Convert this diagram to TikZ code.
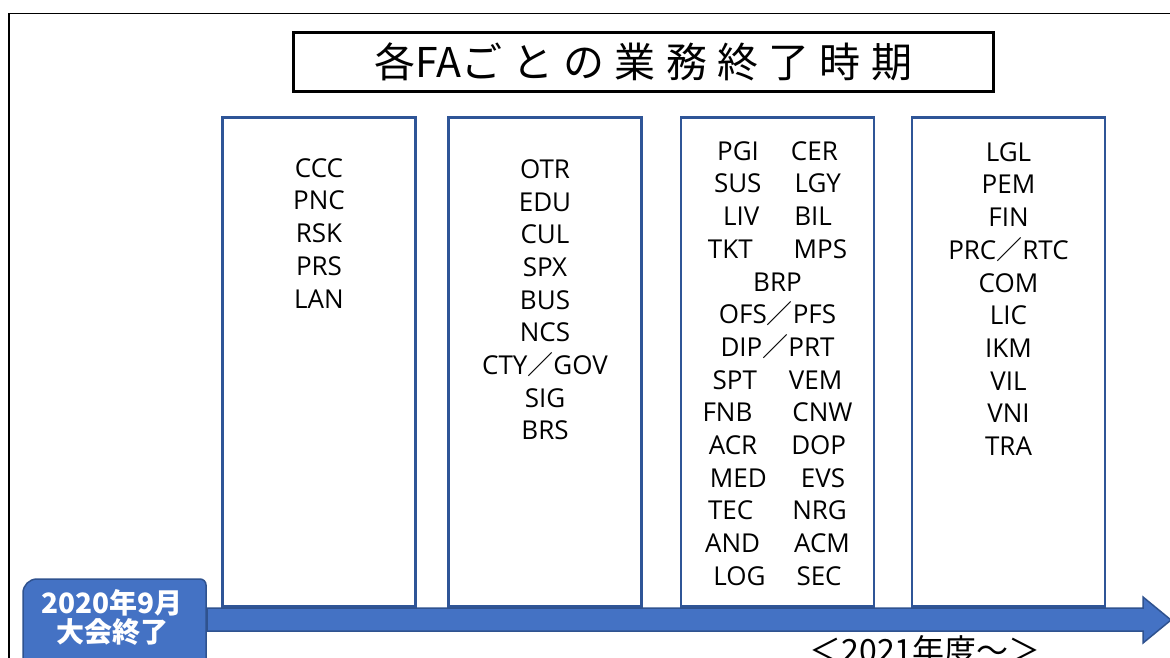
\documentclass[tikz,border=0pt]{standalone}
\usepackage{fontspec}
\setmainfont{Open Sans}
\newfontfamily\jpfont{Noto Sans CJK JP}
\newfontfamily\titlefont[LetterSpace=25]{Noto Sans CJK JP}
\usetikzlibrary{positioning}

\definecolor{fablue}{HTML}{2F5597}
\definecolor{arrowblue}{HTML}{4472C4}
\definecolor{arrowedge}{HTML}{2F528F}

\begin{document}
\begin{tikzpicture}[x=1pt, y=-1pt,
  fabox/.style={draw=fablue, line width=2.5pt, minimum width=193pt, minimum height=489pt, inner sep=0pt},
  falist/.style={font=\fontsize{26}{32.7}\selectfont, align=center, inner sep=0pt},
  titlebox/.style={draw=black, line width=3pt, minimum width=700pt, minimum height=59pt, inner sep=0pt},
  datebox/.style={fill=arrowblue, draw=arrowedge, line width=1.5pt}]
  \useasboundingbox (0,0) rectangle (1170,657);
  \clip (0,0) rectangle (1170,657);
  \fill[white] (0,0) rectangle (1170,657);

  % frame and title
  \draw[line width=1.5pt] (9,700) -- (9,13.5) -- (1200,13.5);
  \node[titlebox] (title) at (643.5,62) {};
  \node[font=\titlefont\fontsize{41}{41}\selectfont] (titletext) at (title.center) {各{\jpfont FA}ごとの業務終了時期};

  % columns
  \node[fabox] (box1) at (319,362) {};
  \node[fabox] (box2) at (545,362) {};
  \node[fabox] (box3) at (777.5,362) {};
  \node[fabox] (box4) at (1008.5,362) {};

  \node[falist, below=42pt of box1.north] (list1) {CCC\\PNC\\RSK\\PRS\\LAN};
  \node[falist, below=43pt of box2.north] (list2)
    {OTR\\EDU\\CUL\\SPX\\BUS\\NCS\\CTY{\jpfont ／}GOV\\SIG\\BRS};
  \node[falist, below=25pt of box3.north] (list3)
    {PGI\hspace{32pt}CER\\SUS\hspace{33pt}LGY\\LIV\hspace{35pt}BIL\\TKT\hspace{41pt}MPS\\BRP\\
     OFS{\jpfont ／}PFS\\DIP{\jpfont ／}PRT\\SPT\hspace{32pt}VEM\\FNB\hspace{40pt}CNW\\
     ACR\hspace{34pt}DOP\\MED\hspace{34pt}EVS\\TEC\hspace{39pt}NRG\\AND\hspace{34pt}ACM\\LOG\hspace{31pt}SEC};
  \node[falist, below=26pt of box4.north] (list4)
    {LGL\\PEM\\FIN\\PRC{\jpfont ／}RTC\\COM\\LIC\\IKM\\VIL\\VNI\\TRA};

  % timeline
  \coordinate (tip) at (1171,620);
  \draw[datebox] (207,608) -- (1143,608) -- (1143,597) -- (tip) -- (1143,643) -- (1143,631) -- (207,631) -- cycle;
  \draw[datebox] (23,700) [rounded corners=14pt] -- (23,579) [rounded corners=6pt] -- (206,579) [sharp corners] -- (206,700);
  \node[font=\jpfont\bfseries\fontsize{28}{29}\selectfont, text=white, align=center, inner sep=0pt] (start) at (112,617)
    {2020年9月\\大会終了};
  \node[font=\jpfont\fontsize{32}{32}\selectfont, anchor=north, inner sep=0pt] (period) at (925,635) {＜2021年度～＞};
\end{tikzpicture}
\end{document}
